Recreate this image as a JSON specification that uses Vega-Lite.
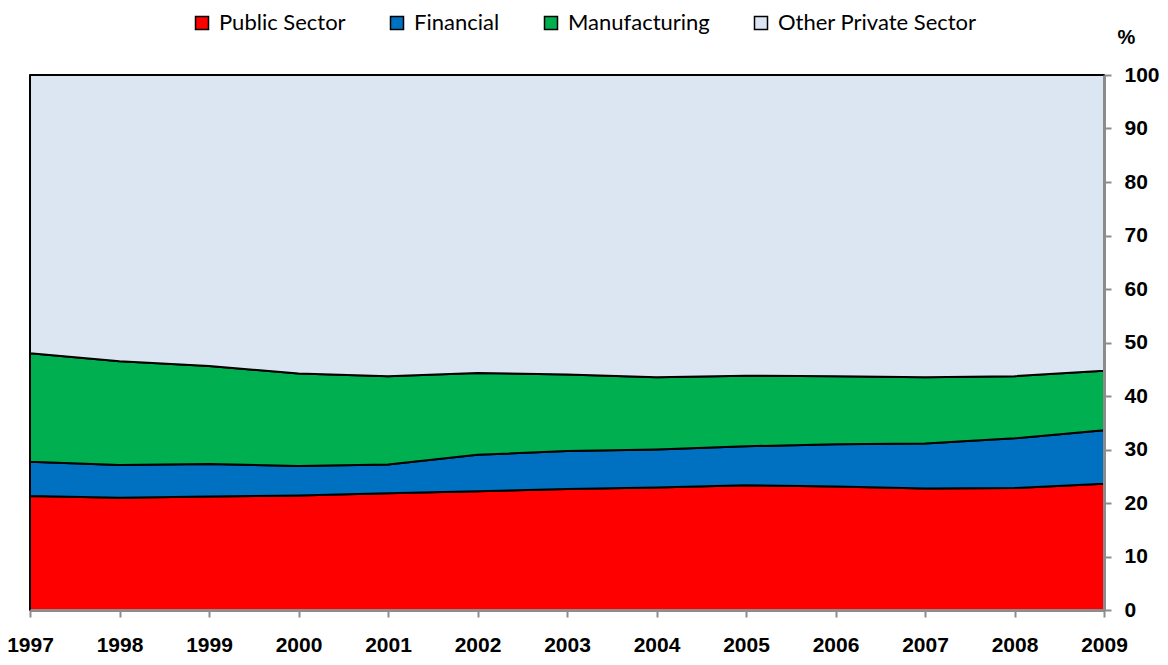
{
  "$schema": "https://vega.github.io/schema/vega-lite/v6.json",
  "width": 1074,
  "height": 535,
  "autosize": {"type": "none"},
  "padding": {"left": 30, "top": 75, "right": 64, "bottom": 55},
  "background": "white",
  "config": {"view": {"stroke": null}},
  "data": {
    "values": [
      {"year": 1997, "sector": "Public Sector", "ord": 1, "share": 21.3},
      {"year": 1998, "sector": "Public Sector", "ord": 1, "share": 21.0},
      {"year": 1999, "sector": "Public Sector", "ord": 1, "share": 21.2},
      {"year": 2000, "sector": "Public Sector", "ord": 1, "share": 21.4},
      {"year": 2001, "sector": "Public Sector", "ord": 1, "share": 21.8},
      {"year": 2002, "sector": "Public Sector", "ord": 1, "share": 22.2},
      {"year": 2003, "sector": "Public Sector", "ord": 1, "share": 22.6},
      {"year": 2004, "sector": "Public Sector", "ord": 1, "share": 22.9},
      {"year": 2005, "sector": "Public Sector", "ord": 1, "share": 23.3},
      {"year": 2006, "sector": "Public Sector", "ord": 1, "share": 23.1},
      {"year": 2007, "sector": "Public Sector", "ord": 1, "share": 22.7},
      {"year": 2008, "sector": "Public Sector", "ord": 1, "share": 22.8},
      {"year": 2009, "sector": "Public Sector", "ord": 1, "share": 23.6},
      {"year": 1997, "sector": "Financial", "ord": 2, "share": 6.4},
      {"year": 1998, "sector": "Financial", "ord": 2, "share": 6.1},
      {"year": 1999, "sector": "Financial", "ord": 2, "share": 6.1},
      {"year": 2000, "sector": "Financial", "ord": 2, "share": 5.5},
      {"year": 2001, "sector": "Financial", "ord": 2, "share": 5.4},
      {"year": 2002, "sector": "Financial", "ord": 2, "share": 6.8},
      {"year": 2003, "sector": "Financial", "ord": 2, "share": 7.1},
      {"year": 2004, "sector": "Financial", "ord": 2, "share": 7.1},
      {"year": 2005, "sector": "Financial", "ord": 2, "share": 7.3},
      {"year": 2006, "sector": "Financial", "ord": 2, "share": 7.9},
      {"year": 2007, "sector": "Financial", "ord": 2, "share": 8.4},
      {"year": 2008, "sector": "Financial", "ord": 2, "share": 9.3},
      {"year": 2009, "sector": "Financial", "ord": 2, "share": 10.0},
      {"year": 1997, "sector": "Manufacturing", "ord": 3, "share": 20.3},
      {"year": 1998, "sector": "Manufacturing", "ord": 3, "share": 19.4},
      {"year": 1999, "sector": "Manufacturing", "ord": 3, "share": 18.3},
      {"year": 2000, "sector": "Manufacturing", "ord": 3, "share": 17.3},
      {"year": 2001, "sector": "Manufacturing", "ord": 3, "share": 16.5},
      {"year": 2002, "sector": "Manufacturing", "ord": 3, "share": 15.3},
      {"year": 2003, "sector": "Manufacturing", "ord": 3, "share": 14.3},
      {"year": 2004, "sector": "Manufacturing", "ord": 3, "share": 13.5},
      {"year": 2005, "sector": "Manufacturing", "ord": 3, "share": 13.2},
      {"year": 2006, "sector": "Manufacturing", "ord": 3, "share": 12.7},
      {"year": 2007, "sector": "Manufacturing", "ord": 3, "share": 12.4},
      {"year": 2008, "sector": "Manufacturing", "ord": 3, "share": 11.6},
      {"year": 2009, "sector": "Manufacturing", "ord": 3, "share": 11.1},
      {"year": 1997, "sector": "Other Private Sector", "ord": 4, "share": 52.0},
      {"year": 1998, "sector": "Other Private Sector", "ord": 4, "share": 53.5},
      {"year": 1999, "sector": "Other Private Sector", "ord": 4, "share": 54.4},
      {"year": 2000, "sector": "Other Private Sector", "ord": 4, "share": 55.8},
      {"year": 2001, "sector": "Other Private Sector", "ord": 4, "share": 56.3},
      {"year": 2002, "sector": "Other Private Sector", "ord": 4, "share": 55.7},
      {"year": 2003, "sector": "Other Private Sector", "ord": 4, "share": 56.0},
      {"year": 2004, "sector": "Other Private Sector", "ord": 4, "share": 56.5},
      {"year": 2005, "sector": "Other Private Sector", "ord": 4, "share": 56.2},
      {"year": 2006, "sector": "Other Private Sector", "ord": 4, "share": 56.3},
      {"year": 2007, "sector": "Other Private Sector", "ord": 4, "share": 56.5},
      {"year": 2008, "sector": "Other Private Sector", "ord": 4, "share": 56.3},
      {"year": 2009, "sector": "Other Private Sector", "ord": 4, "share": 55.3}
    ]
  },
  "mark": {"type": "area", "stroke": "black", "strokeWidth": 2, "strokeJoin": "round", "interpolate": "linear"},
  "encoding": {
    "x": {
      "field": "year",
      "type": "quantitative",
      "scale": {"domain": [1997, 2009], "nice": false, "zero": false},
      "axis": {
        "title": null,
        "values": [1997, 1998, 1999, 2000, 2001, 2002, 2003, 2004, 2005, 2006, 2007, 2008, 2009],
        "format": "d",
        "grid": false,
        "zindex": 1,
        "domainColor": "#8c8c8c",
        "domainWidth": 3,
        "tickColor": "#8c8c8c",
        "tickWidth": 2,
        "tickSize": 7,
        "labelFont": "Liberation Sans",
        "labelFontWeight": "bold",
        "labelFontSize": 21,
        "labelColor": "black",
        "labelPadding": 17,
        "labelFlush": false,
        "labelOverlap": false
      }
    },
    "y": {
      "field": "share",
      "type": "quantitative",
      "stack": "zero",
      "scale": {"domain": [0, 100], "nice": false},
      "axis": {
        "orient": "right",
        "values": [0, 10, 20, 30, 40, 50, 60, 70, 80, 90, 100],
        "grid": false,
        "zindex": 1,
        "domainColor": "#8c8c8c",
        "domainWidth": 3,
        "tickColor": "#8c8c8c",
        "tickWidth": 2,
        "tickSize": 7,
        "labelFont": "Liberation Sans",
        "labelFontWeight": "bold",
        "labelFontSize": 21,
        "labelColor": "black",
        "labelPadding": 13,
        "labelFlush": false,
        "title": "%",
        "titleAngle": 0,
        "titleFont": "Liberation Sans",
        "titleFontWeight": "bold",
        "titleFontSize": 20,
        "titleColor": "black",
        "titleX": 22,
        "titleY": -38,
        "titleAlign": "center",
        "titleBaseline": "middle"
      }
    },
    "color": {
      "field": "sector",
      "type": "nominal",
      "scale": {
        "domain": ["Public Sector", "Financial", "Manufacturing", "Other Private Sector"],
        "range": ["#FF0000", "#0070C0", "#00B050", "#DCE6F2"]
      },
      "legend": {
        "title": null,
        "orient": "none",
        "direction": "horizontal",
        "legendX": 161,
        "legendY": -63,
        "columns": 4,
        "columnPadding": 40,
        "padding": 0,
        "symbolType": "square",
        "symbolSize": 169,
        "symbolStrokeColor": "black",
        "symbolStrokeWidth": 1.5,
        "symbolOpacity": 1,
        "labelFont": "Lato",
        "labelFontSize": 22,
        "labelColor": "black",
        "labelOffset": 6,
        "labelLimit": 400
      }
    },
    "order": {"field": "ord", "type": "quantitative"}
  }
}
